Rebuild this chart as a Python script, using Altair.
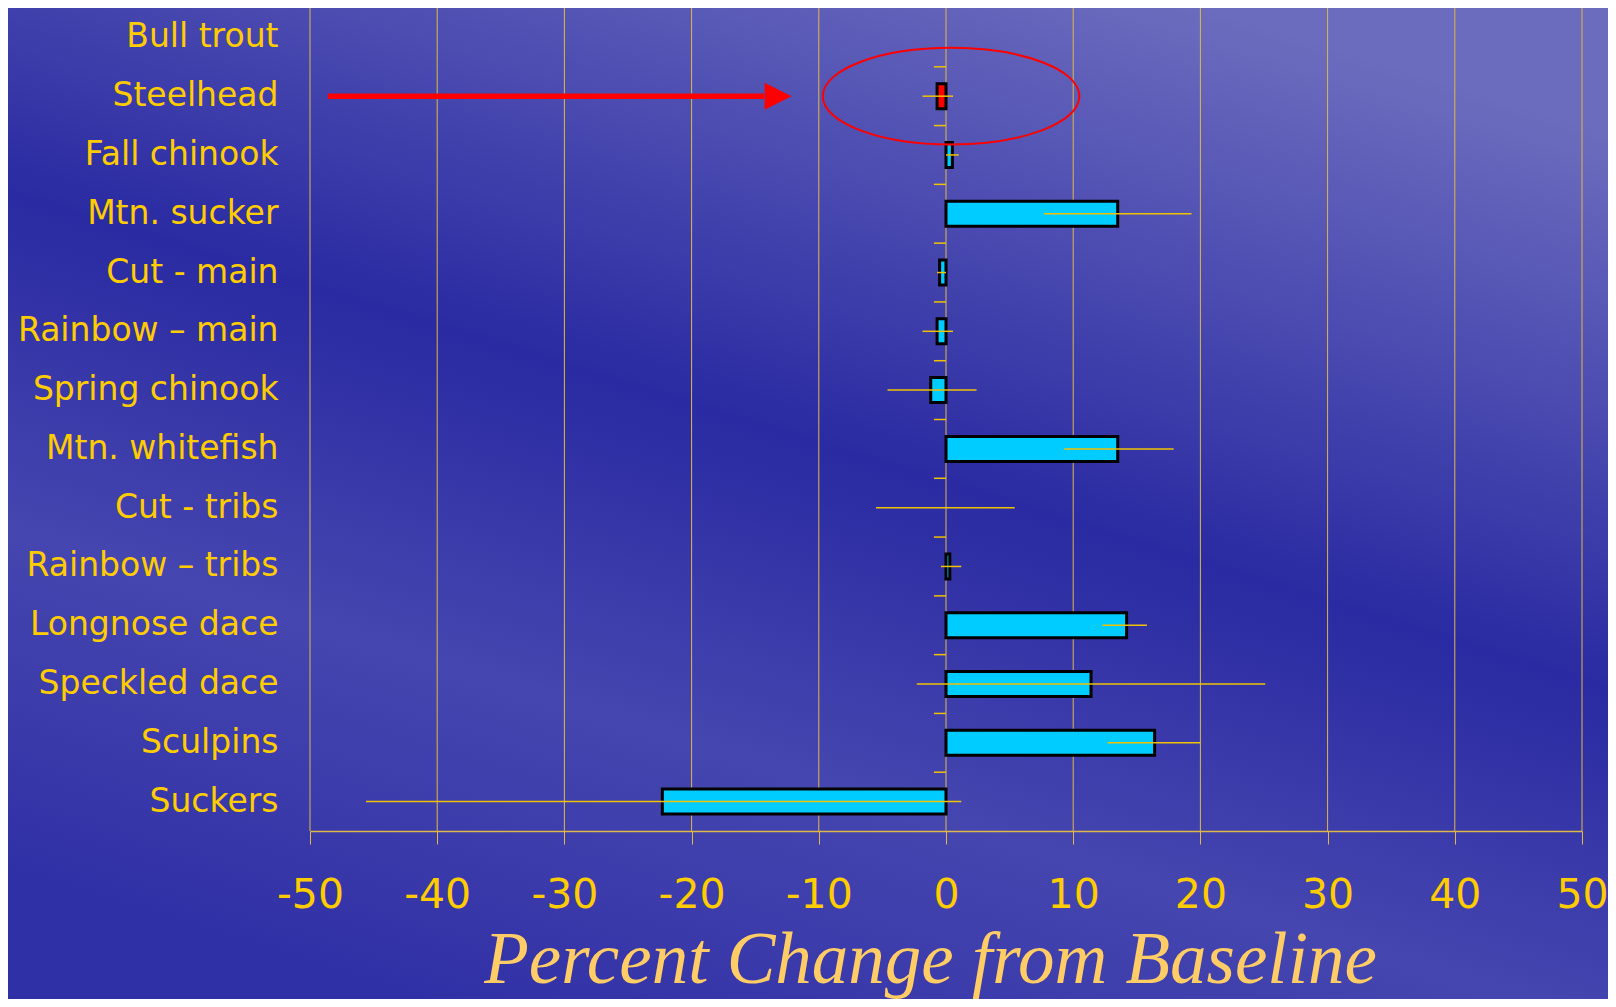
import altair as alt
import pandas as pd

# ---------------- data ----------------
categories = ["Bull trout", "Steelhead", "Fall chinook", "Mtn. sucker", "Cut - main",
              "Rainbow \u2013 main", "Spring chinook", "Mtn. whitefish", "Cut - tribs",
              "Rainbow \u2013 tribs", "Longnose dace", "Speckled dace", "Sculpins", "Suckers"]
bar_values = [None, -0.7, 0.5, 13.5, -0.5, -0.7, -1.2, 13.5, None, 0.3, 14.2, 11.4, 16.4, -22.3]
err_low = [None, -1.85, 0.0, 7.7, -0.7, -1.85, -4.6, 9.3, -5.5, -0.4, 12.3, -2.3, 12.7, -45.6]
err_high = [None, 0.55, 1.0, 19.3, 0.0, 0.55, 2.4, 17.9, 5.4, 1.2, 15.8, 25.1, 20.0, 1.2]
x_ticks = [-50, -40, -30, -20, -10, 0, 10, 20, 30, 40, 50]
highlight = "Steelhead"

# annotation (arrow + ellipse around the highlighted species), in data units
arrow_from = -48.6
arrow_to = -14.3
arrow_head = -13.2
ellipse_center = 0.4

df = pd.DataFrame({"species": categories, "value": bar_values,
                   "lo": err_low, "hi": err_high})
bounds = pd.DataFrame({"species": categories[1:]})
grid_df = pd.DataFrame({"g": x_ticks})
annot = pd.DataFrame({"species": [highlight], "a0": [arrow_from], "a1": [arrow_to],
                      "head": [arrow_head], "ell": [ellipse_center]})

YELLOW = "#FFCC00"
GRID = "#E0B848"
CYAN = "#00CCFF"

xscale = alt.Scale(domain=[-50, 50], nice=False, zero=False)
yscale = alt.Scale(domain=categories, paddingInner=0, paddingOuter=0)

xaxis = alt.Axis(values=x_ticks, labelExpr="'' + datum.value", grid=False, zindex=1,
                 domainColor=GRID, domainWidth=1.5,
                 tickColor=GRID, tickSize=13, tickWidth=1,
                 labelColor=YELLOW, labelFont="DejaVu Sans", labelFontSize=41,
                 labelPadding=31, labelFlush=False,
                 title="Percent Change from Baseline", titleFont="Liberation Serif",
                 titleFontStyle="italic", titleFontWeight="normal", titleFontSize=73,
                 titleColor="#FFCC66", titleX=620, titleY=151, titleAlign="center",
                 titleBaseline="alphabetic")
yaxis = alt.Axis(title=None, domain=False, ticks=False, tickSize=0, grid=False, zindex=1,
                 labelColor=YELLOW, labelFont="DejaVu Sans", labelFontSize=33,
                 labelPadding=32, labelLimit=400)

# backdrop (slide background)
backdrop = alt.Chart(pd.DataFrame({"k": [0]})).mark_rect(
    clip=False,
    fill=alt.Gradient(
        gradient="linear", x1=0.75, y1=0, x2=0.25, y2=1,
        stops=[alt.GradientStop(offset=0.0, color="#6c6cbe"),
               alt.GradientStop(offset=0.18, color="#5252b4"),
               alt.GradientStop(offset=0.45, color="#2a2aa2"),
               alt.GradientStop(offset=0.72, color="#4646b0"),
               alt.GradientStop(offset=1.0, color="#3030a6")],
    ),
).encode(x=alt.value(-302), x2=alt.value(1298), y=alt.value(0), y2=alt.value(991))

gridlines = alt.Chart(grid_df).mark_rule(color=GRID, strokeWidth=1).encode(
    x=alt.X("g:Q", scale=xscale),
)

base = alt.Chart(df)

bars = base.transform_filter("isValid(datum.value)").mark_bar(
    size=25, stroke="black", strokeWidth=3
).encode(
    x=alt.X("value:Q", scale=xscale, axis=xaxis),
    y=alt.Y("species:N", sort=categories, scale=yscale, axis=yaxis),
    color=alt.condition(alt.datum.species == highlight, alt.value("#FF0000"), alt.value(CYAN)),
)

errs = base.transform_filter("isValid(datum.lo)").mark_rule(
    color="#F2C200", strokeWidth=1.5
).encode(
    x="lo:Q", x2="hi:Q",
    y=alt.Y("species:N", sort=categories),
)

cat_ticks = alt.Chart(bounds).mark_rule(color="#F2C200", strokeWidth=1.5).encode(
    x=alt.datum(-0.95), x2=alt.datum(0),
    y=alt.Y("species:N", sort=categories, bandPosition=0),
)

arrow_line = alt.Chart(annot).mark_rule(color="#FF0000", strokeWidth=5.5).encode(
    x="a0:Q", x2="a1:Q", y=alt.Y("species:N", sort=categories),
)
arrow_tip = alt.Chart(annot).mark_point(
    shape="M -1 -1 L 1 0 L -1 1 Z", filled=True, color="#FF0000", size=729, opacity=1
).encode(
    x="head:Q", y=alt.Y("species:N", sort=categories),
)
k = 0.5523
ry = 0.3765
ell_path = (f"M -1 0 C -1 {-k*ry:.4f} {-k:.4f} {-ry} 0 {-ry} "
            f"C {k:.4f} {-ry} 1 {-k*ry:.4f} 1 0 "
            f"C 1 {k*ry:.4f} {k:.4f} {ry} 0 {ry} "
            f"C {-k:.4f} {ry} -1 {k*ry:.4f} -1 0 Z")
ellipse = alt.Chart(annot).mark_point(
    shape=ell_path, filled=False, stroke="#FF0000", strokeWidth=2, size=65844, opacity=1
).encode(
    x="ell:Q", y=alt.Y("species:N", sort=categories),
)

chart = alt.layer(backdrop, gridlines, cat_ticks, bars, errs, arrow_line, arrow_tip,
                  ellipse).properties(
    width=1272, height=823,
    autosize=alt.AutoSizeParams(type="none"),
    padding={"left": 302, "top": 0, "right": 26, "bottom": 168},
    background="#3232a8",
).configure_view(stroke=None)

chart.save("out.html", embed_options={"renderer": "svg", "actions": False})
